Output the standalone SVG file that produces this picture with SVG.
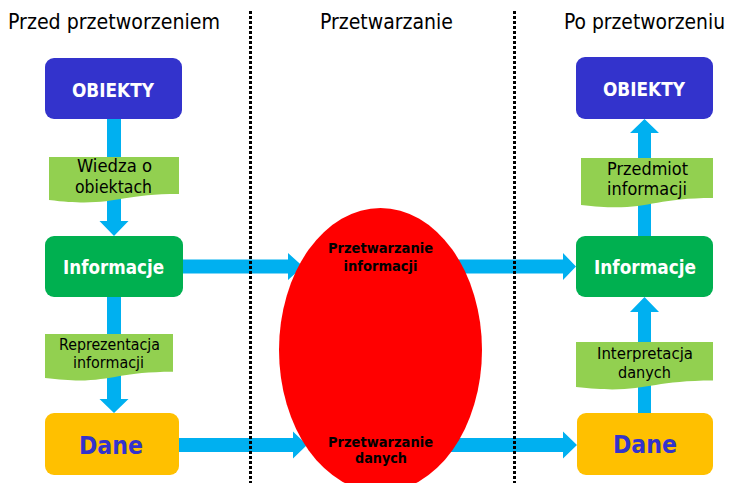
<svg xmlns="http://www.w3.org/2000/svg" width="732" height="483" viewBox="0 0 732 483">
<style>
.t{font-family:"DejaVu Sans Condensed","DejaVu Sans",sans-serif;fill:#000}
.title{font-size:22px}
.box-t{font-size:19px;fill:#fff;font-weight:bold}
.dane-t{font-size:25px;fill:#3333CC;font-weight:bold}
.lab{font-size:17px}
.lab2{font-size:16px}
.ell-t{font-size:13.5px;font-weight:bold}
.arrow{fill:#00B0F0}
.obj{fill:#3333CC}
.inf{fill:#00B050}
.dane{fill:#FFC000}
.label{fill:#92D050}
.dots{stroke:#000;stroke-width:3;stroke-dasharray:3 2;fill:none;shape-rendering:crispEdges}
</style>
<rect width="732" height="483" fill="#fff"/>

<g id="connectors">
  <polygon class="arrow" points="107,119 121,119 121,221 128.5,221 114,236 99.5,221 107,221"/>
  <polygon class="arrow" points="107,297 121,297 121,399 128.5,399 114,413 99.5,399 107,399"/>
  <polygon class="arrow" points="638,236 651,236 651,133 659,133 644.5,119 630,133 638,133"/>
  <polygon class="arrow" points="638,413 651,413 651,312 659,312 644.5,297 630,312 638,312"/>
  <polygon class="arrow" points="183,259.5 288,259.5 288,253 303,266.5 288,280 288,273.5 183,273.5"/>
  <polygon class="arrow" points="440,259.5 563,259.5 563,253 576,266.5 563,280 563,273.5 440,273.5"/>
  <polygon class="arrow" points="179,438 293,438 293,431.5 307,445 293,458.5 293,452 179,452"/>
  <polygon class="arrow" points="440,438 563,438 563,431.5 577,445 563,458.5 563,452 440,452"/>
</g>

<g id="processing">
  <ellipse cx="380.5" cy="350" rx="101.5" ry="142" fill="#FF0000"/>
  <text class="t ell-t" x="380.5" y="253" text-anchor="middle" textLength="105" lengthAdjust="spacingAndGlyphs">Przetwarzanie</text>
  <text class="t ell-t" x="380.5" y="271" text-anchor="middle" textLength="74" lengthAdjust="spacingAndGlyphs">informacji</text>
  <text class="t ell-t" x="380.5" y="447" text-anchor="middle" textLength="105" lengthAdjust="spacingAndGlyphs">Przetwarzanie</text>
  <text class="t ell-t" x="381" y="463" text-anchor="middle" textLength="52" lengthAdjust="spacingAndGlyphs">danych</text>
</g>

<g id="titles">
  <text class="t title" x="8" y="29" textLength="212" lengthAdjust="spacingAndGlyphs">Przed przetworzeniem</text>
  <text class="t title" x="320" y="29" textLength="133" lengthAdjust="spacingAndGlyphs">Przetwarzanie</text>
  <text class="t title" x="564" y="29" textLength="161" lengthAdjust="spacingAndGlyphs">Po przetworzeniu</text>
</g>

<g id="obiekty-left">
  <rect class="obj" x="45" y="58" width="137" height="61" rx="9"/>
  <text class="t box-t" x="113" y="97" text-anchor="middle" textLength="82" lengthAdjust="spacingAndGlyphs">OBIEKTY</text>
</g>
<g id="informacje-left">
  <rect class="inf" x="45" y="236" width="138" height="61" rx="9"/>
  <text class="t box-t" x="113.5" y="274" text-anchor="middle" textLength="101" lengthAdjust="spacingAndGlyphs">Informacje</text>
</g>
<g id="dane-left">
  <rect class="dane" x="45" y="413" width="134" height="62" rx="9"/>
  <text class="t dane-t" x="111" y="454" text-anchor="middle" textLength="64" lengthAdjust="spacingAndGlyphs">Dane</text>
</g>
<g id="obiekty-right">
  <rect class="obj" x="576" y="57" width="137" height="62" rx="9"/>
  <text class="t box-t" x="644" y="96" text-anchor="middle" textLength="82" lengthAdjust="spacingAndGlyphs">OBIEKTY</text>
</g>
<g id="informacje-right">
  <rect class="inf" x="576" y="236" width="137" height="61" rx="9"/>
  <text class="t box-t" x="645" y="274" text-anchor="middle" textLength="102" lengthAdjust="spacingAndGlyphs">Informacje</text>
</g>
<g id="dane-right">
  <rect class="dane" x="577" y="413" width="136" height="62" rx="9"/>
  <text class="t dane-t" x="645" y="453" text-anchor="middle" textLength="64" lengthAdjust="spacingAndGlyphs">Dane</text>
</g>

<g id="label-wiedza">
  <path class="label" d="M49,157 H179 V194 C114,194 114,208 49,200 Z"/>
  <text class="t lab" x="114.5" y="172" text-anchor="middle" textLength="75" lengthAdjust="spacingAndGlyphs">Wiedza o</text>
  <text class="t lab" x="113.5" y="193" text-anchor="middle" textLength="77" lengthAdjust="spacingAndGlyphs">obiektach</text>
</g>
<g id="label-reprezentacja">
  <path class="label" d="M45,334 H173 V371.7 C109,371.7 109,386 45,378 Z"/>
  <text class="t lab2" x="109.5" y="350" text-anchor="middle" textLength="101" lengthAdjust="spacingAndGlyphs">Reprezentacja</text>
  <text class="t lab2" x="108.5" y="368" text-anchor="middle" textLength="71" lengthAdjust="spacingAndGlyphs">informacji</text>
</g>
<g id="label-przedmiot">
  <path class="label" d="M581,158 H713 V198 C647,198 647,213 581,205 Z"/>
  <text class="t lab" x="647.5" y="175" text-anchor="middle" textLength="81" lengthAdjust="spacingAndGlyphs">Przedmiot</text>
  <text class="t lab" x="647" y="195" text-anchor="middle" textLength="80" lengthAdjust="spacingAndGlyphs">informacji</text>
</g>
<g id="label-interpretacja">
  <path class="label" d="M576,342 H713 V380.5 C644.5,380.5 644.5,395 576,387 Z"/>
  <text class="t lab2" x="645" y="359" text-anchor="middle" textLength="96" lengthAdjust="spacingAndGlyphs">Interpretacja</text>
  <text class="t lab2" x="644.5" y="378" text-anchor="middle" textLength="53" lengthAdjust="spacingAndGlyphs">danych</text>
</g>

<g id="dividers">
  <line class="dots" x1="250.5" y1="11" x2="250.5" y2="483"/>
  <line class="dots" x1="514.5" y1="11" x2="514.5" y2="483"/>
</g>
</svg>
